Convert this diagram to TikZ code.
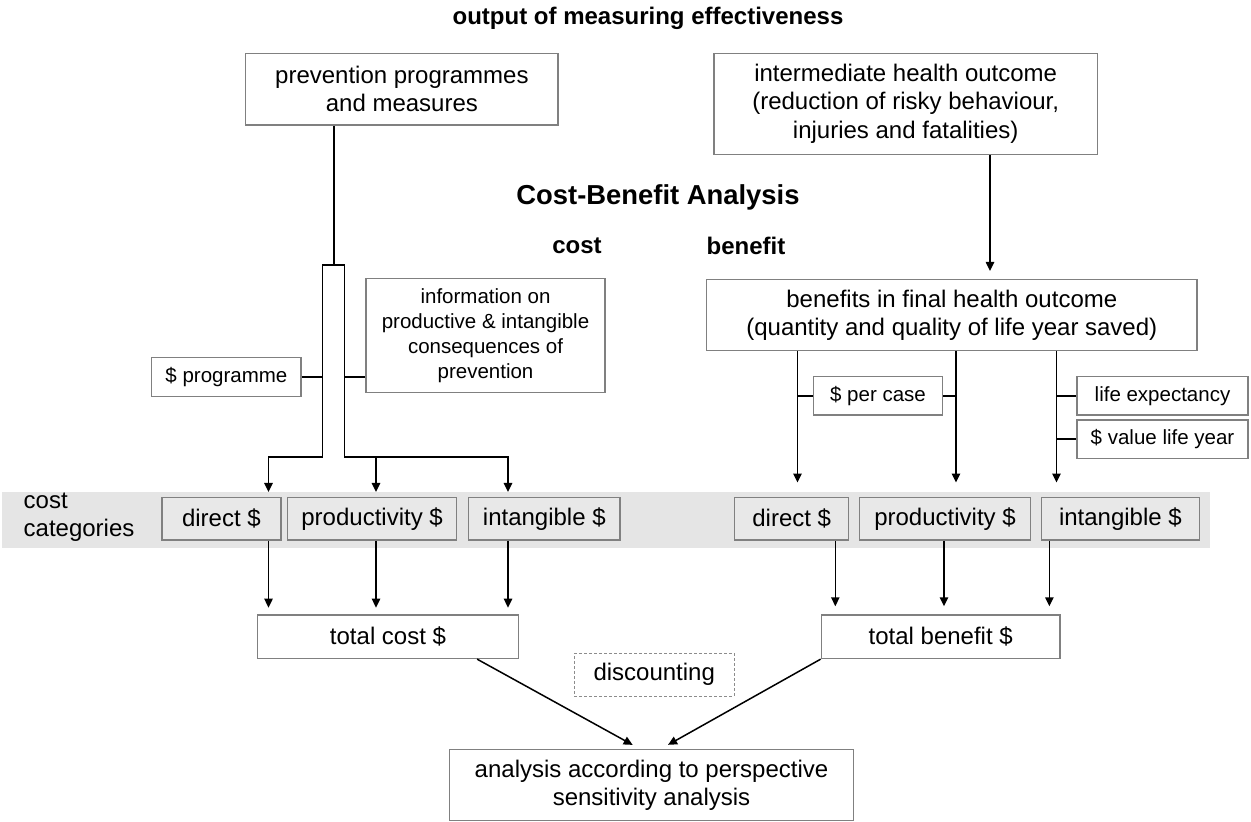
\documentclass[tikz,border=0pt]{standalone}
\usepackage{fontspec}
\setmainfont{Liberation Sans}
\usetikzlibrary{arrows.meta,calc}

\begin{document}
\begin{tikzpicture}[x=0.5pt,y=-0.5pt,>={Triangle[length=4.5pt,width=4.2pt]},
  bx/.style={draw=black!50,line width=0.75pt,fill=white,align=center,inner sep=0pt,font=\fontsize{12}{14.15}\selectfont},
  sbx/.style={bx,font=\fontsize{10.25}{12.5}\selectfont},
  cat/.style={bx,fill=black!9,minimum height=21.4pt},
  ln/.style={line width=0.75pt},
  arr/.style={->,line width=0.75pt},
  hd/.style={font=\bfseries\fontsize{12}{14.15}\selectfont}]
  \useasboundingbox (0,0) rectangle (1251,822);
  % grey band behind the cost categories
  \fill[black!10] (2,491.7) rectangle (1209.5,547.7);
  \node[hd] (ttl) at (648,18) {output of measuring effectiveness};
  \node[font=\bfseries\fontsize{13.7}{16}\selectfont] (cba) at (658,197) {Cost-Benefit Analysis};
  \node[hd] (lcost) at (577,246) {cost};
  \node[hd] (lben) at (746,246) {benefit};
  \node[align=left,anchor=west,font=\fontsize{12}{14.15}\selectfont] (cc) at (16.6,517.5) {cost\\categories};
  % cost side
  \node[bx,minimum width=156.2pt,minimum height=35.9pt] (prev) at (401.9,89.2) {prevention programmes\\and measures};
  \node[sbx,minimum width=119.5pt,minimum height=57.2pt] (info) at (485.5,335.5) {information on\\productive \& intangible\\consequences of\\prevention};
  \node[sbx,minimum width=74.7pt,minimum height=19.7pt] (prog) at (226.4,377) {\$ programme};
  \node[cat,minimum width=59.4pt] (dirC) at (221.4,518.7) {direct \$};
  \node[cat,minimum width=84.6pt] (prodC) at (372.1,518.7) {productivity \$};
  \node[cat,minimum width=75.7pt] (intC) at (544.3,518.7) {intangible \$};
  \node[bx,minimum width=130.7pt,minimum height=21.7pt] (totC) at (388,636.7) {total cost \$};
  % benefit side
  \node[bx,minimum width=191.7pt,minimum height=50.5pt] (inter) at (905.7,103.8) {intermediate health outcome\\(reduction of risky behaviour,\\injuries and fatalities)};
  \node[bx,minimum width=245.3pt,minimum height=35.7pt] (fin) at (951.8,315) {benefits in final health outcome\\(quantity and quality of life year saved)};
  \node[sbx,minimum width=64.5pt,minimum height=19.2pt] (pcase) at (878,395.9) {\$ per case};
  \node[sbx,minimum width=85.5pt,minimum height=19.2pt] (lexp) at (1162.5,395.9) {life expectancy};
  \node[sbx,minimum width=85.5pt,minimum height=19.2pt] (vly) at (1162.5,439.2) {\$ value life year};
  \node[cat,minimum width=57pt] (dirB) at (791.7,518.7) {direct \$};
  \node[cat,minimum width=85.6pt] (prodB) at (945,518.7) {productivity \$};
  \node[cat,minimum width=79.1pt] (intB) at (1120.4,518.7) {intangible \$};
  \node[bx,minimum width=119.3pt,minimum height=21.7pt] (totB) at (940.7,636.7) {total benefit \$};
  % bottom
  \node[bx,draw=black!45,line width=0.6pt,dash pattern=on 1.5pt off 1pt,minimum width=79.9pt,minimum height=21.4pt] (disc) at (654.2,674.7) {discounting};
  \node[bx,minimum width=202.2pt,minimum height=35.7pt] (ana) at (651.5,785) {analysis according to perspective\\sensitivity analysis};
  % bus below the programmes box
  \coordinate (bus) at (334,265);
  \coordinate (ul) at (322.5,457);
  \coordinate (ur) at (344.3,457);
  \coordinate (cx1) at (268.5,457);
  \coordinate (cx2) at (376,457);
  \coordinate (cx3) at (508,457);
  \draw[ln] (bus |- prev.south) -- (bus);
  \draw[ln] (ul) |- (bus) -| (ur);
  \draw[ln] (prog.east) -- (prog.east -| ul);
  \draw[ln] (ur |- prog.east) -- (info.west |- prog.east);
  \draw[arr,shorten >=2.3pt] (ul) -| (cx1 |- dirC.north);
  \draw[arr,shorten >=2.3pt] (ur) -| (cx3 |- intC.north);
  \draw[arr,shorten >=2.3pt] (cx2) -- (cx2 |- prodC.north);
  \foreach \c/\n in {cx1/dirC,cx2/prodC,cx3/intC}
    \draw[arr,shorten >=3.3pt] (\c |- \n.south) -- (\c |- totC.north);
  % benefit connectors
  \coordinate (ix) at (990,0);
  \coordinate (bx1) at (797.5,0);
  \coordinate (bx2) at (956,0);
  \coordinate (bx3) at (1056.5,0);
  \coordinate (by1) at (835.3,0);
  \coordinate (by2) at (944,0);
  \coordinate (by3) at (1049.4,0);
  \draw[arr,shorten >=3.8pt] (ix |- inter.south) -- (ix |- fin.north);
  \foreach \c/\n in {bx1/dirB,bx2/prodB,bx3/intB}
    \draw[arr,shorten >=7pt] (\c |- fin.south) -- (\c |- \n.north);
  \draw[ln] (bx1 |- pcase.west) -- (pcase.west);
  \draw[ln] (pcase.east) -- (bx2 |- pcase.east);
  \draw[ln] (bx3 |- lexp.west) -- (lexp.west);
  \draw[ln] (bx3 |- vly.west) -- (vly.west);
  \foreach \c/\n in {by1/dirB,by2/prodB,by3/intB}
    \draw[arr,shorten >=4pt] (\c |- \n.south) -- (\c |- totB.north);
  % into the analysis
  \draw[arr,shorten >=3.8pt] ($(totC.south west)!0.839!(totC.south east)$) -- ($(ana.north)+(-12.2,0)$);
  \draw[arr,shorten >=3.8pt] (totB.south west) -- ($(ana.north)+(9.9,0)$);
\end{tikzpicture}
\end{document}
